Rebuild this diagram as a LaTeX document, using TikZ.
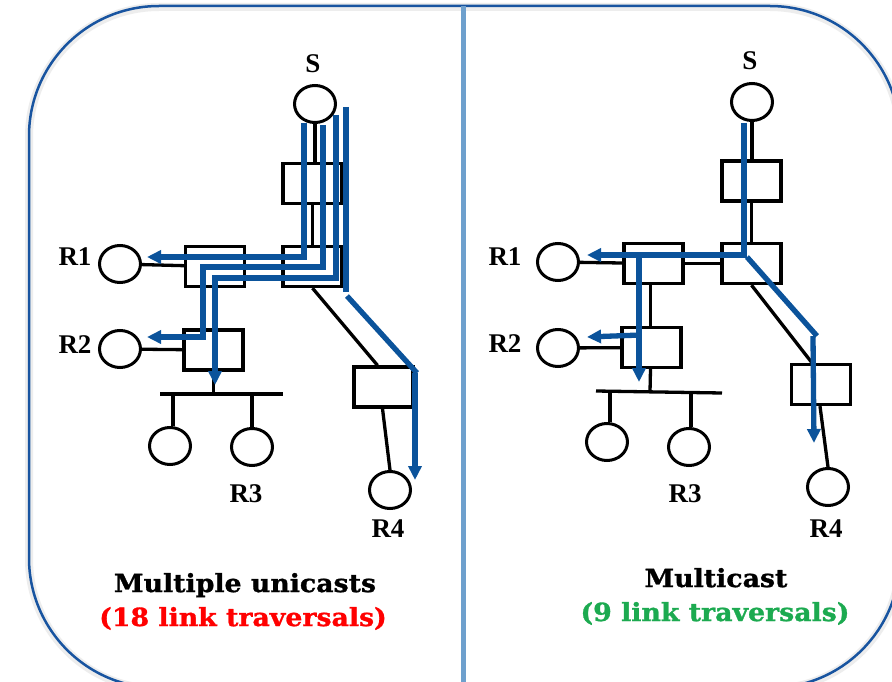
\documentclass[tikz,border=0pt]{standalone}
\usepackage{fontspec}
\setmainfont{Liberation Serif}
\newfontfamily\slabfont[FakeStretch=1.07,FakeBold=1.2]{DejaVu Serif}
\usetikzlibrary{shapes.geometric,arrows.meta,calc}
\definecolor{routeblue}{RGB}{11,83,155}
\definecolor{frameblue}{RGB}{24,84,160}
\definecolor{divblue}{RGB}{110,160,205}
\definecolor{costred}{RGB}{255,0,0}
\definecolor{costgreen}{RGB}{28,170,80}

\begin{document}
\begin{tikzpicture}[x=1pt,y=-1pt,
  host/.style={ellipse,draw,line width=3pt,minimum width=41pt,minimum height=37pt,inner sep=0pt},
  router/.style={rectangle,draw,line width=3.3pt,minimum width=59pt,minimum height=40pt,inner sep=0pt},
  link/.style={line width=3.3pt},
  route/.style={draw=routeblue,line width=5.3pt,-{Triangle[length=14pt,width=13pt]}},
  plainroute/.style={draw=routeblue,line width=5.3pt},
  lbl/.style={font=\fontsize{27}{27}\selectfont\bfseries,anchor=base,inner sep=0pt},
  caption/.style={font=\slabfont\fontsize{25}{27}\selectfont\bfseries,anchor=base,inner sep=0pt}
]
% page and frame
\fill[white] (0,0) rectangle (892,682);
\useasboundingbox (0,0) rectangle (892,682);
\begin{scope}
  \clip (0,0) rectangle (892,682);
  \draw[line width=8pt,black!7,rounded corners=130pt] (29,7) rectangle (900,689);
  \draw[frameblue,line width=2.5pt,rounded corners=130pt] (29,6) rectangle (900,688);
\end{scope}
\draw[divblue,line width=5pt] (463,6) -- (463,682);

% ---------- multiple unicasts ----------
\node[host]   (sL)   at (315,104) {};
\node[router] (aL)   at (312.5,183.5) {};
\node[router] (bL)   at (312.5,266.5) {};
\node[router] (r1L)  at (215,266.5) {};
\node[router] (r2L)  at (213.5,350) {};
\node[router] (r4L)  at (383.5,387) {};
\node[host]   (h1L)  at (120,264) {};
\node[host]   (h2L)  at (120,349) {};
\node[host]   (h3aL) at (170,446) {};
\node[host]   (h3bL) at (252,447) {};
\node[host]   (h4L)  at (390,490) {};
\coordinate (busLa) at (160,394);
\coordinate (busLb) at (283,394);

\draw[link] (sL.south) -- (sL.south |- aL.north);
\draw[link] (aL) -- (bL);
\draw[link] (bL) -- (r1L);
\draw[link] (h1L) -- (r1L);
\draw[link] (r1L) -- (r2L);
\draw[link] (h2L) -- (r2L);
\draw[link] (busLa) -- (busLb);
\draw[link] (r2L.south) -- (r2L.south |- busLa);
\draw[link] ([xshift=3pt]h3aL.north |- busLa) -- ([xshift=3pt]h3aL.north);
\draw[link] (h3bL.north |- busLa) -- (h3bL.north);
\draw[link] (bL.south) -- ([xshift=-6pt]r4L.north);
\draw[link] ([xshift=-1pt]r4L.south) -- (h4L.north);

\draw[route] (304,123) -- (304,257) -- (147,257);
\draw[route] (323,125) -- (323,267) -- (203,267) -- (203,337) -- (147,337);
\draw[route] (336,115) -- (336,278) -- (215,278) -- (215,385);
\draw[plainroute] (346,107) -- (346,292);
\draw[plainroute] (347,296) -- (417,373);
\draw[route] (415,373) -- (415,480);

\node[lbl] (sLt)  at (313,73)  {S};
\node[lbl] (r1Lt) at (75,265)  {R1};
\node[lbl] (r2Lt) at (75,353)  {R2};
\node[lbl] (r3Lt) at (246,502) {R3};
\node[lbl] (r4Lt) at (388,537) {R4};

\node[caption] (t1) at (245,592) {Multiple unicasts};
\node[caption,text=costred] (c1) at (243,626) {(18 link traversals)};

% ---------- multicast ----------
\node[host]   (sR)   at (752,102) {};
\node[router] (aR)   at (751.5,181) {};
\node[router] (bR)   at (751.5,263.5) {};
\node[router] (r1R)  at (653.5,263.5) {};
\node[router] (r2R)  at (651.5,347.5) {};
\node[router] (r4R)  at (821,384.5) {};
\node[host]   (h1R)  at (558,262) {};
\node[host]   (h2R)  at (558,348) {};
\node[host]   (h3aR) at (607,442) {};
\node[host]   (h3bR) at (689,447) {};
\node[host]   (h4R)  at (828,487) {};
\coordinate (busRa) at (596,391);
\coordinate (busRb) at (722,393);

\draw[link] (sR.south) -- (sR.south |- aR.north);
\draw[link] (aR) -- (bR);
\draw[link] (bR) -- (r1R);
\draw[link] (h1R) -- (r1R);
\draw[link] ([xshift=-3pt]r1R.south) -- ([xshift=-1pt]r2R.north);
\draw[link] (h2R) -- (r2R);
\draw[link] (busRa) -- (busRb);
\draw[link] ([xshift=-1pt]r2R.south) -- (650,392);
\draw[link] ([xshift=3pt]h3aR.north |- busRa) -- ([xshift=3pt]h3aR.north);
\draw[link] ([xshift=2pt]h3bR.north |- busRb) -- ([xshift=2pt]h3bR.north);
\draw[link] (bR.south) -- ([xshift=-9pt]r4R.north);
\draw[link] ([xshift=-1pt]r4R.south) -- (h4R.north);

\draw[route] (744,123) -- (744,255) -- (587,255);
\draw[route] (639,255) -- (639,382);
\draw[route] (641,335) -- (587,337);
\draw[plainroute] (747,257) -- (817,336);
\draw[route] (813,336) -- (814,443);

\node[lbl] (sRt)  at (750,70)  {S};
\node[lbl] (r1Rt) at (505,265) {R1};
\node[lbl] (r2Rt) at (505,352) {R2};
\node[lbl] (r3Rt) at (685,502) {R3};
\node[lbl] (r4Rt) at (826,537) {R4};

\node[caption] (t2) at (716,587) {Multicast};
\node[caption,text=costgreen] (c2) at (715,621) {(9 link traversals)};
\end{tikzpicture}
\end{document}
